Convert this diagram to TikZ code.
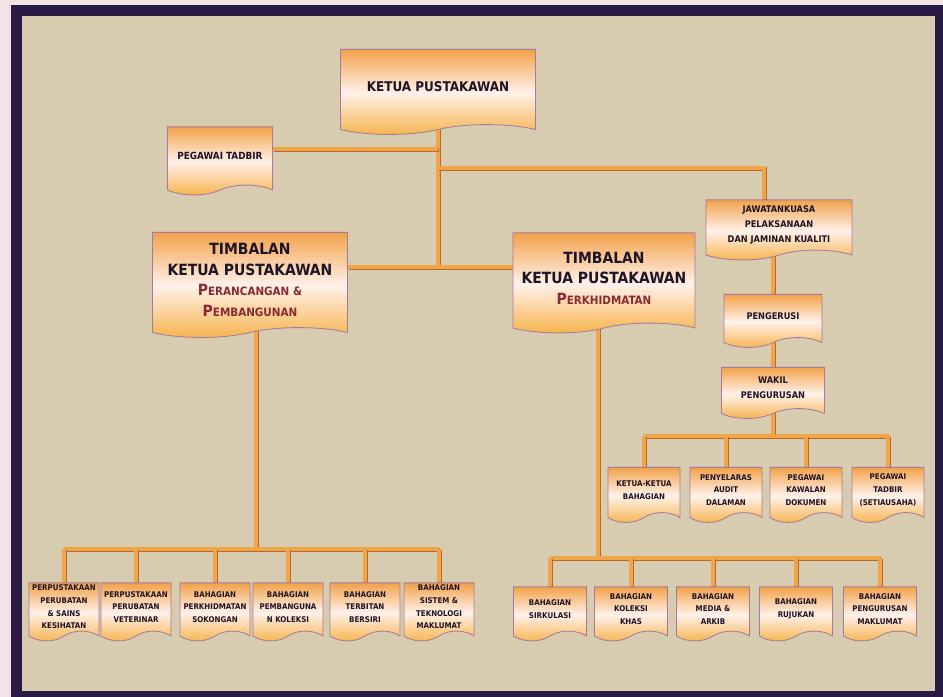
\documentclass[tikz,border=0pt]{standalone}
\usepackage{fontspec}
\newfontfamily\boxfont{DejaVu Sans Condensed}
\usetikzlibrary{shapes.symbols}
\definecolor{pinkbg}{HTML}{F3E3E6}
\definecolor{framec}{HTML}{2A1B45}
\definecolor{beige}{HTML}{D7CBB0}
\definecolor{boxtop}{HTML}{F2A24A}
\definecolor{boxmid}{HTML}{FFF1EA}
\definecolor{boxbot}{HTML}{F6B24A}
\definecolor{boxedge}{HTML}{A67AA0}
\definecolor{linkorange}{HTML}{EFA548}
\definecolor{linkdark}{HTML}{B8692A}
\definecolor{ink}{HTML}{1E1428}
\definecolor{scred}{HTML}{8A2A30}
\newcommand\fakesc[2]{#1{\fontsize{8.2}{14}\selectfont#2}}
\pgfdeclarelayer{back}
\pgfdeclarelayer{links}
\pgfsetlayers{back,links,main}
\begin{document}
\begin{tikzpicture}[x=0.025cm,y=-0.025cm,
  doc/.style={tape,tape bend top=none,tape bend bottom=in and out,tape bend height=7pt,
    draw=boxedge,line width=0.6pt,top color=boxtop,bottom color=boxbot,middle color=boxmid,
    text=ink,align=center,inner sep=1pt},
  tA/.style={font=\boxfont\bfseries\fontsize{9.5}{12}\selectfont},
  tB/.style={font=\boxfont\bfseries\fontsize{11}{14.5}\selectfont},
  tC/.style={font=\boxfont\bfseries\fontsize{6.5}{10.5}\selectfont},
  tD/.style={font=\boxfont\bfseries\fontsize{5.6}{9}\selectfont},
  unitL/.style={doc,tD,minimum width=1.75cm,minimum height=1.45cm},
  unitR/.style={doc,tD,minimum width=1.825cm,minimum height=1.35cm},
  unitK/.style={doc,tD,minimum width=1.8cm,minimum height=1.375cm},
  link/.style={draw=linkorange,line width=2.4pt,
    preaction={draw=linkdark,line width=2.4pt,transform canvas={xshift=0.6pt,yshift=-0.6pt}}}]
\useasboundingbox (0,0) rectangle (943,697);
\begin{pgfonlayer}{back}
\fill[pinkbg] (0,0) rectangle (943,697);
\fill[framec] (11,5) rectangle (943,697);
\fill[beige] (22,16) rectangle (935,691);
\end{pgfonlayer}

% top
\node[doc,tA,minimum width=4.875cm,minimum height=2.125cm] (ketua) at (438,87) {KETUA PUSTAKAWAN};
\node[doc,tC,font=\boxfont\bfseries\fontsize{7}{9}\selectfont,minimum width=2.625cm,minimum height=1.7cm] (peg) at (220,156) {PEGAWAI TADBIR};
\node[doc,tB,minimum width=4.875cm,minimum height=2.625cm] (tim1) at (250,280) {TIMBALAN\\KETUA PUSTAKAWAN\\\textcolor{scred}{\fakesc{P}{ERANCANGAN \&}}\\\textcolor{scred}{\fakesc{P}{EMBANGUNAN}}};
\node[doc,tB,minimum width=4.55cm,minimum height=2.5cm] (tim2) at (604,278) {TIMBALAN\\KETUA PUSTAKAWAN\\\textcolor{scred}{\fakesc{P}{ERKHIDMATAN}}};

% right column
\node[doc,tC,minimum width=3.65cm,minimum height=1.5cm] (jk) at (779,225) {JAWATANKUASA\\PELAKSANAAN\\DAN JAMINAN KUALITI};
\node[doc,tC,minimum width=2.45cm,minimum height=1.325cm] (peng) at (773,316) {PENGERUSI};
\node[doc,tC,minimum width=2.575cm,minimum height=1.275cm] (wakil) at (773,388) {WAKIL\\PENGURUSAN};
\node[unitK] (k1) at (644,490) {KETUA-KETUA\\BAHAGIAN};
\node[unitK] (k2) at (726,490) {PENYELARAS\\AUDIT\\DALAMAN};
\node[unitK] (k3) at (806,490) {PEGAWAI\\KAWALAN\\DOKUMEN};
\node[unitK] (k4) at (888,490) {PEGAWAI\\TADBIR\\(SETIAUSAHA)};

% bottom left
\node[unitL] (l1) at (64,607) {PERPUSTAKAAN\\PERUBATAN\\\& SAINS\\KESIHATAN};
\node[unitL] (l2) at (136,607) {PERPUSTAKAAN\\PERUBATAN\\VETERINAR};
\node[unitL] (l3) at (215,607) {BAHAGIAN\\PERKHIDMATAN\\SOKONGAN};
\node[unitL] (l4) at (288,607) {BAHAGIAN\\PEMBANGUNA\\N KOLEKSI};
\node[unitL] (l5) at (365,607) {BAHAGIAN\\TERBITAN\\BERSIRI};
\node[unitL] (l6) at (439,607) {BAHAGIAN\\SISTEM \&\\TEKNOLOGI\\MAKLUMAT};

% bottom right
\node[unitR] (r1) at (550,609) {BAHAGIAN\\SIRKULASI};
\node[unitR] (r2) at (631,609) {BAHAGIAN\\KOLEKSI\\KHAS};
\node[unitR] (r3) at (713,609) {BAHAGIAN\\MEDIA \&\\ARKIB};
\node[unitR] (r4) at (796,609) {BAHAGIAN\\RUJUKAN};
\node[unitR] (r5) at (880,609) {BAHAGIAN\\PENGURUSAN\\MAKLUMAT};

% Lines
\begin{pgfonlayer}{links}
\coordinate (hub) at (438,267);
\coordinate (jt) at (438,149);
\coordinate (jk1) at (438,168);
\coordinate (jk2) at (764,168);
\coordinate (barL) at (256,549);
\coordinate (barR) at (598,558);
\coordinate (barK) at (773,436);
\draw[link] (ketua.south) -- (hub);
\draw[link] (peg.east |- jt) -- (jt);
\draw[link] (jk1) -- (jk2) -- (jk2 |- jk.north);
\draw[link] (tim1.east |- hub) -- (tim2.west |- hub);
\draw[link] (peng.north |- jk.south) -- (peng.north);
\draw[link] (peng.south) -- (wakil.north);
\draw[link] (wakil.south) -- (barK);
\draw[link] (k1.north |- barK) -- (k4.north |- barK);
\draw[link] (k1.north |- barK) -- (k1.north);
\draw[link] (k2.north |- barK) -- (k2.north);
\draw[link] (k3.north |- barK) -- (k3.north);
\draw[link] (k4.north |- barK) -- (k4.north);
\draw[link] (barL |- tim1.south) -- (barL);
\draw[link] (l1.north |- barL) -- (l6.north |- barL);
\draw[link] (l1.north |- barL) -- (l1.north);
\draw[link] (l2.north |- barL) -- (l2.north);
\draw[link] (l3.north |- barL) -- (l3.north);
\draw[link] (l4.north |- barL) -- (l4.north);
\draw[link] (l5.north |- barL) -- (l5.north);
\draw[link] (l6.north |- barL) -- (l6.north);
\draw[link] (barR |- tim2.south) -- (barR);
\draw[link] (r1.north |- barR) -- (r5.north |- barR);
\draw[link] (r1.north |- barR) -- (r1.north);
\draw[link] (r2.north |- barR) -- (r2.north);
\draw[link] (r3.north |- barR) -- (r3.north);
\draw[link] (r4.north |- barR) -- (r4.north);
\draw[link] (r5.north |- barR) -- (r5.north);
\end{pgfonlayer}
\end{tikzpicture}
\end{document}
